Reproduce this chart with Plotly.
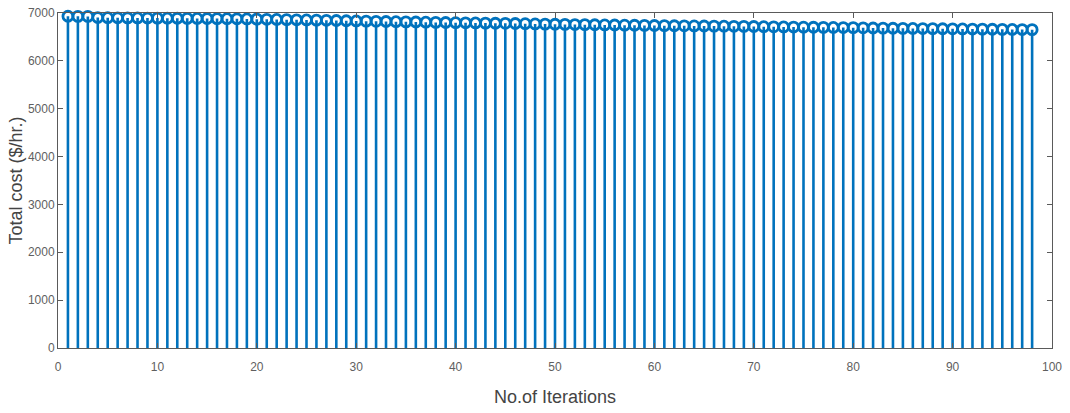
import plotly.graph_objects as go

# Total generation cost recorded at each iteration of the optimiser
iterations = list(range(1, 99))
total_cost = [
    6932, 6930, 6929, 6905, 6902, 6900, 6898, 6897, 6895, 6893,
    6891, 6890, 6888, 6886, 6885, 6883, 6881, 6879, 6876, 6872,
    6868, 6865, 6861, 6858, 6855, 6851, 6847, 6843, 6838, 6834,
    6830, 6826, 6822, 6818, 6815, 6812, 6808, 6804, 6801, 6798,
    6795, 6792, 6789, 6786, 6784, 6781, 6777, 6772, 6768, 6765,
    6762, 6759, 6757, 6754, 6751, 6749, 6746, 6744, 6741, 6739,
    6736, 6734, 6732, 6730, 6728, 6726, 6724, 6722, 6720, 6718,
    6714, 6711, 6708, 6706, 6704, 6702, 6700, 6698, 6696, 6694,
    6690, 6687, 6684, 6681, 6679, 6677, 6675, 6673, 6671, 6669,
    6667, 6665, 6663, 6660, 6658, 6656, 6654, 6652,
]
x_ticks = [0, 10, 20, 30, 40, 50, 60, 70, 80, 90, 100]
y_ticks = [0, 1000, 2000, 3000, 4000, 5000, 6000, 7000]

STEM = "#0072BD"
AXIS = "#5a5a5a"
FONT = "Liberation Sans, Arial, sans-serif"

fig = go.Figure()

# Stem plot: each marker carries a downward error bar to zero as its stem
fig.add_trace(go.Scatter(
    x=iterations,
    y=total_cost,
    mode="markers",
    marker=dict(symbol="circle-open", size=10, color=STEM, line=dict(width=2.8, color=STEM)),
    error_y=dict(type="data", symmetric=False, array=[0] * len(total_cost),
                 arrayminus=total_cost, color=STEM, thickness=2.6, width=0),
    showlegend=False,
    cliponaxis=False,
))

axis_common = dict(
    showgrid=False, zeroline=False, showline=True, linecolor=AXIS, linewidth=1,
    mirror="ticks", ticks="inside", ticklen=5, tickcolor=AXIS, automargin=False,
    tickfont=dict(family=FONT, size=12, color="#5f5f5f"),
)

fig.update_layout(
    width=1070, height=413,
    margin=dict(l=58, r=18, t=13, b=65),
    paper_bgcolor="white", plot_bgcolor="white",
    xaxis=dict(range=[0, 100], tickvals=x_ticks, ticklabelstandoff=8,
               title=dict(text="No.of Iterations", standoff=16,
                          font=dict(family=FONT, size=18, color="#444444")),
               **axis_common),
    yaxis=dict(range=[0, 7000], tickvals=y_ticks,
               title=dict(text="Total cost ($/hr.)", standoff=0,
                          font=dict(family=FONT, size=18, color="#444444")),
               **axis_common),
)

fig.write_html("out.html")
